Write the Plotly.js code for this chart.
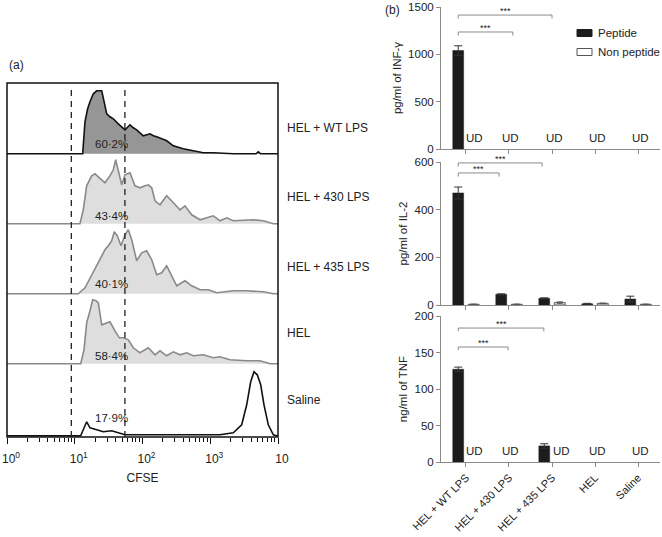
<!DOCTYPE html>
<html><head><meta charset="utf-8">
<script src="https://cdn.plot.ly/plotly-3.0.1.min.js"></script>
<style>html,body{margin:0;padding:0;background:#fff}#chart{width:662px;height:537px}</style>
</head><body><div id="chart"></div>
<script>
// ================= DATA =================
// (a) CFSE histograms: log10(CFSE) positions and relative cell counts
const rowLabels   = ['HEL + WT LPS', 'HEL + 430 LPS', 'HEL + 435 LPS', 'HEL', 'Saline'];
const rowPercents = ['60·2%', '43·4%', '40·1%', '58·4%', '17·9%'];
const gateLow = 8.9, gateHigh = 55;

const wtLog   = [0, 1.117, 1.151, 1.190, 1.225, 1.274, 1.324, 1.398, 1.421, 1.472, 1.520, 1.569, 1.643, 1.742, 1.815, 1.864, 1.914, 2.012, 2.111, 2.160, 2.210, 2.357, 2.455, 2.602, 2.750, 2.897, 3.045, 3.340, 3.675, 3.709, 3.743, 4];
const wtCount = [0, 0, 32, 45, 52, 60, 63, 63, 56, 40, 37, 35, 30, 24, 29, 26, 24, 18, 20, 18, 17, 13, 8, 5, 3, 1, 1, 0, 0, 2, 0, 0];

const l430Log   = [0, 1.077, 1.126, 1.176, 1.250, 1.299, 1.348, 1.446, 1.520, 1.569, 1.604, 1.643, 1.693, 1.742, 1.815, 1.889, 1.963, 2.037, 2.086, 2.136, 2.185, 2.258, 2.357, 2.455, 2.554, 2.627, 2.726, 2.849, 3.045, 3.144, 3.243, 3.340, 3.538, 3.635, 3.783, 3.931, 4];
const l430Count = [0, 0, 14, 38, 48, 50, 47, 41, 48, 54, 64, 53, 39, 49, 51, 38, 36, 38, 39, 36, 23, 19, 28, 21, 14, 18, 9, 4, 8, 3, 6, 3, 4, 4, 3, 0, 0];

const l435Log   = [0, 1.052, 1.151, 1.250, 1.324, 1.398, 1.446, 1.495, 1.545, 1.584, 1.628, 1.683, 1.742, 1.790, 1.841, 1.914, 1.988, 2.062, 2.136, 2.210, 2.283, 2.357, 2.431, 2.505, 2.627, 2.726, 2.849, 2.971, 3.095, 3.340, 3.538, 3.783, 3.931, 4];
const l435Count = [0, 0, 6, 19, 28, 39, 44, 48, 53, 62, 58, 48, 59, 64, 54, 33, 41, 43, 34, 19, 21, 28, 18, 8, 13, 8, 4, 4, 1, 3, 3, 2, 0, 0];

const helLog   = [0, 1.088, 1.137, 1.176, 1.225, 1.265, 1.314, 1.348, 1.398, 1.472, 1.520, 1.594, 1.658, 1.717, 1.790, 1.864, 1.963, 2.086, 2.185, 2.258, 2.357, 2.455, 2.554, 2.652, 2.750, 2.897, 3.045, 3.144, 3.292, 3.538, 3.734, 3.882, 4];
const helCount = [0, 0, 14, 41, 53, 64, 63, 61, 39, 41, 42, 33, 26, 26, 24, 16, 11, 16, 9, 13, 8, 12, 9, 11, 8, 9, 6, 7, 4, 3, 3, 0, 0];

const salLog   = [0, 1.088, 1.176, 1.225, 1.324, 1.421, 1.545, 1.643, 1.742, 2.012, 3.144, 3.340, 3.464, 3.538, 3.597, 3.646, 3.694, 3.745, 3.793, 3.857, 3.931, 3.981, 4];
const salCount = [0, 0, 14, 8, 6, 4, 5, 3, 1, 1, 1, 3, 11, 31, 54, 64, 61, 51, 31, 11, 1, 0, 0];

const cfseTickVals = [1, 10, 100, 1000, 10000];
const cfseTickText = ['10<sup>0</sup>', '10<sup>1</sup>', '10<sup>2</sup>', '10<sup>3</sup>', '10'];

// (b) cytokines
const categories = ['HEL + WT LPS', 'HEL + 430 LPS', 'HEL + 435 LPS', 'HEL', 'Saline'];
const seriesNames = ['Peptide', 'Non peptide'];
const ifnPeptide        = [1040, null, null, null, null];
const ifnPeptideErr     = [50, 0, 0, 0, 0];
const ifnNonPeptide     = [null, null, null, null, null];
const il2Peptide        = [470, 45, 28, 5, 25];
const il2PeptideErr     = [25, 2, 2, 2, 12];
const il2NonPeptide     = [3, 3, 10, 7, 3];
const il2NonPeptideErr  = [1, 1, 3, 1, 1];
const tnfPeptide        = [127, null, 22, null, null];
const tnfPeptideErr     = [3, 0, 3, 0, 0];
const tnfNonPeptide     = [null, null, null, null, null];
const sigPairs = [[0, 1], [0, 2]];
const sigText = '***';

// ================= STYLE / LAYOUT =================
const W = 662, H = 537;
const px = p => p / W;
const py = p => 1 - p / H;
const FONT = 'Liberation Sans, Arial, Helvetica, sans-serif';
const TXT = '#222';
const PEP_COLOR = '#1c1c1c', NON_COLOR = '#f4f4f4', NON_LINE = '#555';

const rows = [
  {log: wtLog,   cnt: wtCount,   top: 83,  bot: 155, fill: '#969696', line: '#111'},
  {log: l430Log, cnt: l430Count, top: 155, bot: 225, fill: '#dedede', line: '#8a8a8a'},
  {log: l435Log, cnt: l435Count, top: 225, bot: 295, fill: '#dedede', line: '#8a8a8a'},
  {log: helLog,  cnt: helCount,  top: 295, bot: 365, fill: '#dedede', line: '#8a8a8a'},
  {log: salLog,  cnt: salCount,  top: 365, bot: 437, fill: 'rgba(0,0,0,0)', line: '#111'}
];
const labelY = [128, 197, 267, 333, 400];
const pctY   = [144, 216, 284, 356, 418];

const data = [];
const layout = {
  width: W, height: H,
  margin: {l: 0, r: 0, t: 0, b: 0, autoexpand: false},
  paper_bgcolor: '#fff', plot_bgcolor: 'rgba(0,0,0,0)',
  font: {family: FONT, color: TXT, size: 11},
  showlegend: false,
  barmode: 'group', bargap: 0.28, bargroupgap: 0.3,
  annotations: [], shapes: []
};

rows.forEach((r, i) => {
  const yName = i === 0 ? 'y' : 'y' + (i + 1);
  const yKey = i === 0 ? 'yaxis' : 'yaxis' + (i + 1);
  data.push({
    type: 'scatter', mode: 'lines', xaxis: 'x', yaxis: yName,
    x: r.log.map(v => Math.pow(10, v)), y: r.cnt,
    fill: 'tozeroy', fillcolor: r.fill,
    line: {color: r.line, width: 1.6, shape: 'linear'},
    showlegend: false, hoverinfo: 'skip'
  });
  const h = r.bot - r.top;
  layout[yKey] = {
    domain: [py(r.bot), py(r.top)], range: [-1.2, h - 1.2], anchor: 'x',
    visible: false, fixedrange: true
  };
  layout.annotations.push({
    xref: 'paper', yref: 'paper', x: px(285), y: py(labelY[i]),
    xanchor: 'left', yanchor: 'middle', text: rowLabels[i], showarrow: false,
    font: {size: 12, color: TXT}
  });
  layout.annotations.push({
    xref: 'paper', yref: 'paper', x: px(111), y: py(pctY[i]),
    xanchor: 'center', yanchor: 'middle', text: rowPercents[i], showarrow: false,
    font: {size: 11.5, color: TXT}
  });
});

layout.xaxis = {
  type: 'log', domain: [px(7), px(278)], range: [0, 4], anchor: 'y5',
  tickmode: 'array', tickvals: cfseTickVals, ticktext: cfseTickText,
  ticks: 'outside', ticklen: 6, tickwidth: 1, tickcolor: '#111',
  minor: {dtick: 'D1', ticks: 'outside', ticklen: 3.5, tickwidth: 1, tickcolor: '#111', showgrid: false},
  ticklabeloverflow: 'allow', ticklabelstandoff: 5, ticklabelshift: 4,
  showline: false, showgrid: false, zeroline: false,
  tickfont: {size: 12, color: TXT},
  title: {text: 'CFSE', font: {size: 12, color: TXT}, standoff: 8},
  fixedrange: true
};
layout.shapes.push({type: 'rect', xref: 'paper', yref: 'paper',
  x0: px(7), x1: px(278), y0: py(437), y1: py(83), line: {color: '#111', width: 1.5}});
[gateLow, gateHigh].forEach(g => layout.shapes.push({
  type: 'line', xref: 'x', yref: 'paper', x0: g, x1: g,
  y0: py(437), y1: py(85), line: {color: '#222', width: 1.3, dash: '6px,5px'}
}));
layout.annotations.push({xref: 'paper', yref: 'paper', x: px(7), y: py(65),
  xanchor: 'left', yanchor: 'middle', text: '(a)', showarrow: false, font: {size: 12, color: TXT}});
layout.annotations.push({xref: 'paper', yref: 'paper', x: px(383), y: py(10),
  xanchor: 'left', yanchor: 'middle', text: '(b)', showarrow: false, font: {size: 12, color: TXT}});

// ---- (b) bar panels ----
const panels = [
  {pep: ifnPeptide, pepErr: ifnPeptideErr, non: ifnNonPeptide, nonErr: [0,0,0,0,0],
   top: 7, bot: 149, range: [0, 1500], dtick: 500, title: 'pg/ml of INF-γ',
   br: {start: -0.18, endOff: [0.09, 0.0], y: [1236, 1415], drop: 37}},
  {pep: il2Peptide, pepErr: il2PeptideErr, non: il2NonPeptide, nonErr: il2NonPeptideErr,
   top: 162, bot: 305, range: [0, 600], dtick: 200, title: 'pg/ml of IL-2',
   br: {start: -0.18, endOff: [-0.23, -0.23], y: [554, 596], drop: 15}},
  {pep: tnfPeptide, pepErr: tnfPeptideErr, non: tnfNonPeptide, nonErr: [0,0,0,0,0],
   top: 316, bot: 462, range: [0, 200], dtick: 50, title: 'ng/ml of TNF',
   br: {start: -0.18, endOff: [-0.02, -0.19], y: [157.5, 183.5], drop: 4.5}}
];

panels.forEach((p, j) => {
  const xn = 'x' + (j + 2), yn = 'y' + (j + 6);
  const xk = 'xaxis' + (j + 2), yk = 'yaxis' + (j + 6);
  data.push({
    type: 'bar', name: seriesNames[0], x: categories, y: p.pep, xaxis: xn, yaxis: yn,
    marker: {color: PEP_COLOR, line: {color: PEP_COLOR, width: 0.5}},
    error_y: {type: 'data', array: p.pepErr, visible: true, color: '#333', thickness: 1, width: 4},
    hoverinfo: 'x+y'
  });
  data.push({
    type: 'bar', name: seriesNames[1], x: categories, y: p.non, xaxis: xn, yaxis: yn,
    marker: {color: NON_COLOR, line: {color: NON_LINE, width: 1}},
    error_y: {type: 'data', array: p.nonErr, visible: true, color: '#555', thickness: 1, width: 3},
    hoverinfo: 'x+y'
  });
  layout[xk] = {
    type: 'category', categoryarray: categories, domain: [px(441), px(660)],
    range: [-0.58, 4.51], anchor: yn,
    showline: true, linecolor: '#8a8a8a', linewidth: 1,
    ticks: 'outside', ticklen: 4, tickcolor: '#8a8a8a',
    showticklabels: j === 2, tickangle: -45, tickfont: {size: 11, color: TXT},
    showgrid: false, zeroline: false, fixedrange: true
  };
  layout[yk] = {
    domain: [py(p.bot), py(p.top)], range: p.range, dtick: p.dtick, anchor: xn,
    showline: true, linecolor: '#8a8a8a', linewidth: 1,
    ticks: 'outside', ticklen: 4, tickcolor: '#8a8a8a',
    tickfont: {size: 11.5, color: TXT}, showgrid: false, zeroline: false,
    title: {text: p.title, font: {size: 11.5, color: TXT}, standoff: 4},
    fixedrange: true
  };
  categories.forEach((c, i) => {
    if (p.non[i] === null) {
      layout.annotations.push({
        xref: xn, yref: yn, x: c, y: 0, text: 'UD', showarrow: false,
        xanchor: 'center', yanchor: 'bottom', xshift: p.pep[i] !== null ? 9 : 2, yshift: 3,
        font: {size: 11.5, color: TXT}
      });
    }
  });
  sigPairs.forEach((pair, k) => {
    const x0 = pair[0] + p.br.start, x1 = pair[1] + p.br.endOff[k], yy = p.br.y[k];
    const ln = {color: '#8a8a8a', width: 1};
    layout.shapes.push({type: 'line', xref: xn, yref: yn, x0: x0, x1: x1, y0: yy, y1: yy, line: ln});
    layout.shapes.push({type: 'line', xref: xn, yref: yn, x0: x0, x1: x0, y0: yy, y1: yy - p.br.drop, line: ln});
    layout.shapes.push({type: 'line', xref: xn, yref: yn, x0: x1, x1: x1, y0: yy, y1: yy - p.br.drop, line: ln});
    layout.annotations.push({
      xref: xn, yref: yn, x: (x0 + x1) / 2, y: yy, text: sigText, showarrow: false,
      xanchor: 'center', yanchor: 'bottom', yshift: -3, font: {size: 9, color: TXT}
    });
  });
});

// key (swatches + labels)
const keyStyle = [
  {fill: PEP_COLOR, line: PEP_COLOR, y: 33},
  {fill: '#ffffff', line: NON_LINE, y: 52}
];
seriesNames.forEach((n, i) => {
  const k = keyStyle[i];
  layout.shapes.push({type: 'rect', xref: 'paper', yref: 'paper',
    x0: px(577), x1: px(592), y0: py(k.y + 3.5), y1: py(k.y - 3.5),
    fillcolor: k.fill, line: {color: k.line, width: 1}});
  layout.annotations.push({xref: 'paper', yref: 'paper', x: px(596), y: py(k.y),
    xanchor: 'left', yanchor: 'middle', text: n, showarrow: false, font: {size: 11.5, color: TXT}});
});

Plotly.newPlot('chart', data, layout, {staticPlot: true, displayModeBar: false});
</script>
</body></html>
